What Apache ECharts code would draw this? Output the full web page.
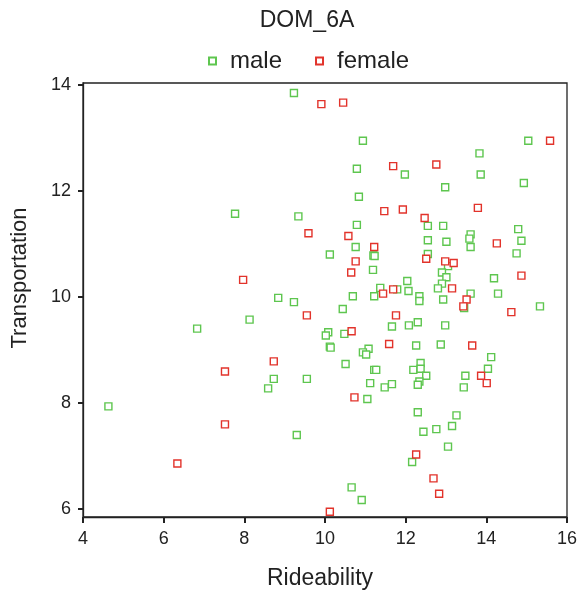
<!DOCTYPE html>
<html>
<head>
<meta charset="utf-8">
<script src="https://cdn.jsdelivr.net/npm/echarts@6/dist/echarts.min.js"></script>
<style>
  html, body { margin: 0; padding: 0; background: #fff; }
  #chart { width: 579px; height: 590px; }
</style>
</head>
<body>
<div id="chart"></div>
<script>
// Rideability (x) vs Transportation (y) scores, split by gender
const maleRideability = [
  7.77, 9.23, 10.94, 10.79, 11.98, 10.84, 9.34, 10.79, 10.76, 10.12,
  11.20, 11.23, 11.19, 12.04, 11.37, 11.79, 12.07, 15.04, 13.83, 13.86,
  14.93, 12.98, 12.55, 12.93, 14.79, 13.61, 13.58, 12.55, 13.01, 14.87,
  13.61, 12.55, 14.75, 13.05, 12.90, 13.01, 14.19, 12.90, 12.80, 12.34,
  12.34, 13.61, 14.29, 12.93, 13.45, 15.33, 12.08, 12.30, 12.98, 12.26,
  12.87, 14.12, 12.37, 12.19, 12.37, 12.51, 13.48, 14.04, 12.34, 12.30,
  13.44, 12.30, 13.26, 13.15, 12.44, 12.76, 13.05, 12.16, 8.13, 6.83,
  4.63, 8.84, 9.23, 10.69, 11.22, 10.44, 11.66, 10.08, 10.02, 10.48,
  10.12, 10.14, 11.08, 10.94, 11.02, 10.51, 8.73, 9.55, 11.22, 11.27,
  8.59, 11.12, 11.48, 11.66, 11.05, 9.30, 10.66, 10.91
];
const maleTransportation = [
  11.57, 13.85, 12.95, 12.42, 12.31, 11.89, 11.52, 11.36, 10.94, 10.80,
  10.78, 10.77, 10.51, 10.30, 10.17, 10.14, 10.11, 12.95, 12.71, 12.31,
  12.15, 12.07, 11.34, 11.34, 11.28, 11.18, 11.10, 11.07, 11.04, 11.06,
  10.94, 10.81, 10.82, 10.58, 10.46, 10.37, 10.35, 10.25, 10.16, 10.01,
  9.92, 10.06, 10.06, 9.95, 9.79, 9.82, 9.46, 9.52, 9.46, 9.08,
  9.10, 8.86, 8.75, 8.62, 8.64, 8.51, 8.51, 8.64, 8.40, 8.34,
  8.29, 7.82, 7.76, 7.56, 7.45, 7.50, 7.17, 6.88, 9.57, 9.40,
  7.93, 9.98, 9.90, 10.01, 10.01, 9.77, 9.44, 9.33, 9.27, 9.30,
  9.06, 9.04, 9.02, 8.95, 8.91, 8.73, 8.45, 8.45, 8.62, 8.62,
  8.27, 8.37, 8.29, 8.35, 8.07, 7.39, 6.40, 6.16
];
const femaleRideability = [
  7.97, 9.91, 10.45, 11.69, 11.47, 11.93, 9.59, 10.58, 11.22, 10.76,
  10.65, 11.69, 11.44, 15.58, 12.76, 13.79, 12.47, 14.26, 12.51, 12.98,
  13.19, 14.87, 13.15, 7.52, 7.52, 6.34, 9.55, 11.76, 10.66, 11.59,
  8.73, 10.73, 10.12, 13.51, 13.43, 14.62, 13.65, 13.87, 14.01, 12.26,
  12.69, 12.83
];
const femaleTransportation = [
  10.32, 13.64, 13.67, 12.47, 11.62, 11.65, 11.20, 11.15, 10.94, 10.67,
  10.46, 10.14, 10.06, 12.95, 12.50, 11.68, 11.49, 11.01, 10.72, 10.67,
  10.64, 10.40, 10.16, 8.59, 7.59, 6.85, 9.65, 9.65, 9.35, 9.11,
  8.78, 8.10, 5.94, 9.95, 9.82, 9.71, 9.08, 8.51, 8.37, 7.02,
  6.57, 6.28
];
const xTicks = [4, 6, 8, 10, 12, 14, 16];
const yTicks = [6, 8, 10, 12, 14];

const pair = (xs, ys) => xs.map((x, i) => [x, ys[i]]);

const FONT = '"Liberation Sans", Arial, Helvetica, sans-serif';
const INK = '#222';
const GREEN = '#5ec64f';
const RED = '#e2332b';

const chart = echarts.init(document.getElementById('chart'), null, { renderer: 'canvas' });

const markerStyle = (c) => ({ color: '#ffffff', borderColor: c, borderWidth: 1.4, opacity: 1 });

chart.setOption({
  animation: false,
  backgroundColor: '#ffffff',
  title: {
    text: 'DOM_6A',
    left: 302,
    textAlign: 'center',
    top: 4,
    textStyle: { fontFamily: FONT, fontSize: 23, fontWeight: 'normal', color: INK }
  },
  legend: {
    left: 203,
    top: 44,
    icon: 'rect',
    itemWidth: 7,
    itemHeight: 7,
    itemGap: 33,
    textStyle: { fontFamily: FONT, fontSize: 24, color: INK, padding: [0, 0, 0, 9] },
    data: ['male', 'female']
  },
  grid: {
    left: 83, right: 12, top: 83, bottom: 73,
    containLabel: false,
    outerBoundsMode: 'none',
    show: true, borderColor: INK, borderWidth: 1.3, backgroundColor: '#fff'
  },
  xAxis: {
    type: 'value',
    min: xTicks[0],
    max: xTicks[xTicks.length - 1],
    interval: 2,
    name: 'Rideability',
    nameLocation: 'middle',
    nameGap: 50,
    nameTextStyle: { fontFamily: FONT, fontSize: 23, color: INK, padding: [0, 10, 0, 0] },
    axisLine: { show: true, lineStyle: { color: INK, width: 1.3 } },
    axisTick: { show: true, length: 6, lineStyle: { color: INK, width: 2 } },
    axisLabel: { fontFamily: FONT, fontSize: 18, color: INK, margin: 13 },
    splitLine: { show: false }
  },
  yAxis: {
    type: 'value',
    min: 5.84,
    max: 14.04,
    name: 'Transportation',
    nameLocation: 'middle',
    nameGap: 52,
    nameTextStyle: { fontFamily: FONT, fontSize: 22, color: INK, padding: [0, 0, 0, 44] },
    axisLine: { show: true, lineStyle: { color: INK, width: 1.3 } },
    axisTick: { show: true, length: 5, customValues: yTicks, lineStyle: { color: INK, width: 2 } },
    axisLabel: { fontFamily: FONT, fontSize: 18, color: INK, margin: 12, customValues: yTicks },
    splitLine: { show: false }
  },
  series: [
    {
      name: 'male',
      type: 'scatter',
      symbol: 'rect',
      symbolSize: 7,
      itemStyle: markerStyle(GREEN),
      data: pair(maleRideability, maleTransportation)
    },
    {
      name: 'female',
      type: 'scatter',
      symbol: 'rect',
      symbolSize: 7,
      itemStyle: markerStyle(RED),
      data: pair(femaleRideability, femaleTransportation)
    }
  ]
});
</script>
</body>
</html>
